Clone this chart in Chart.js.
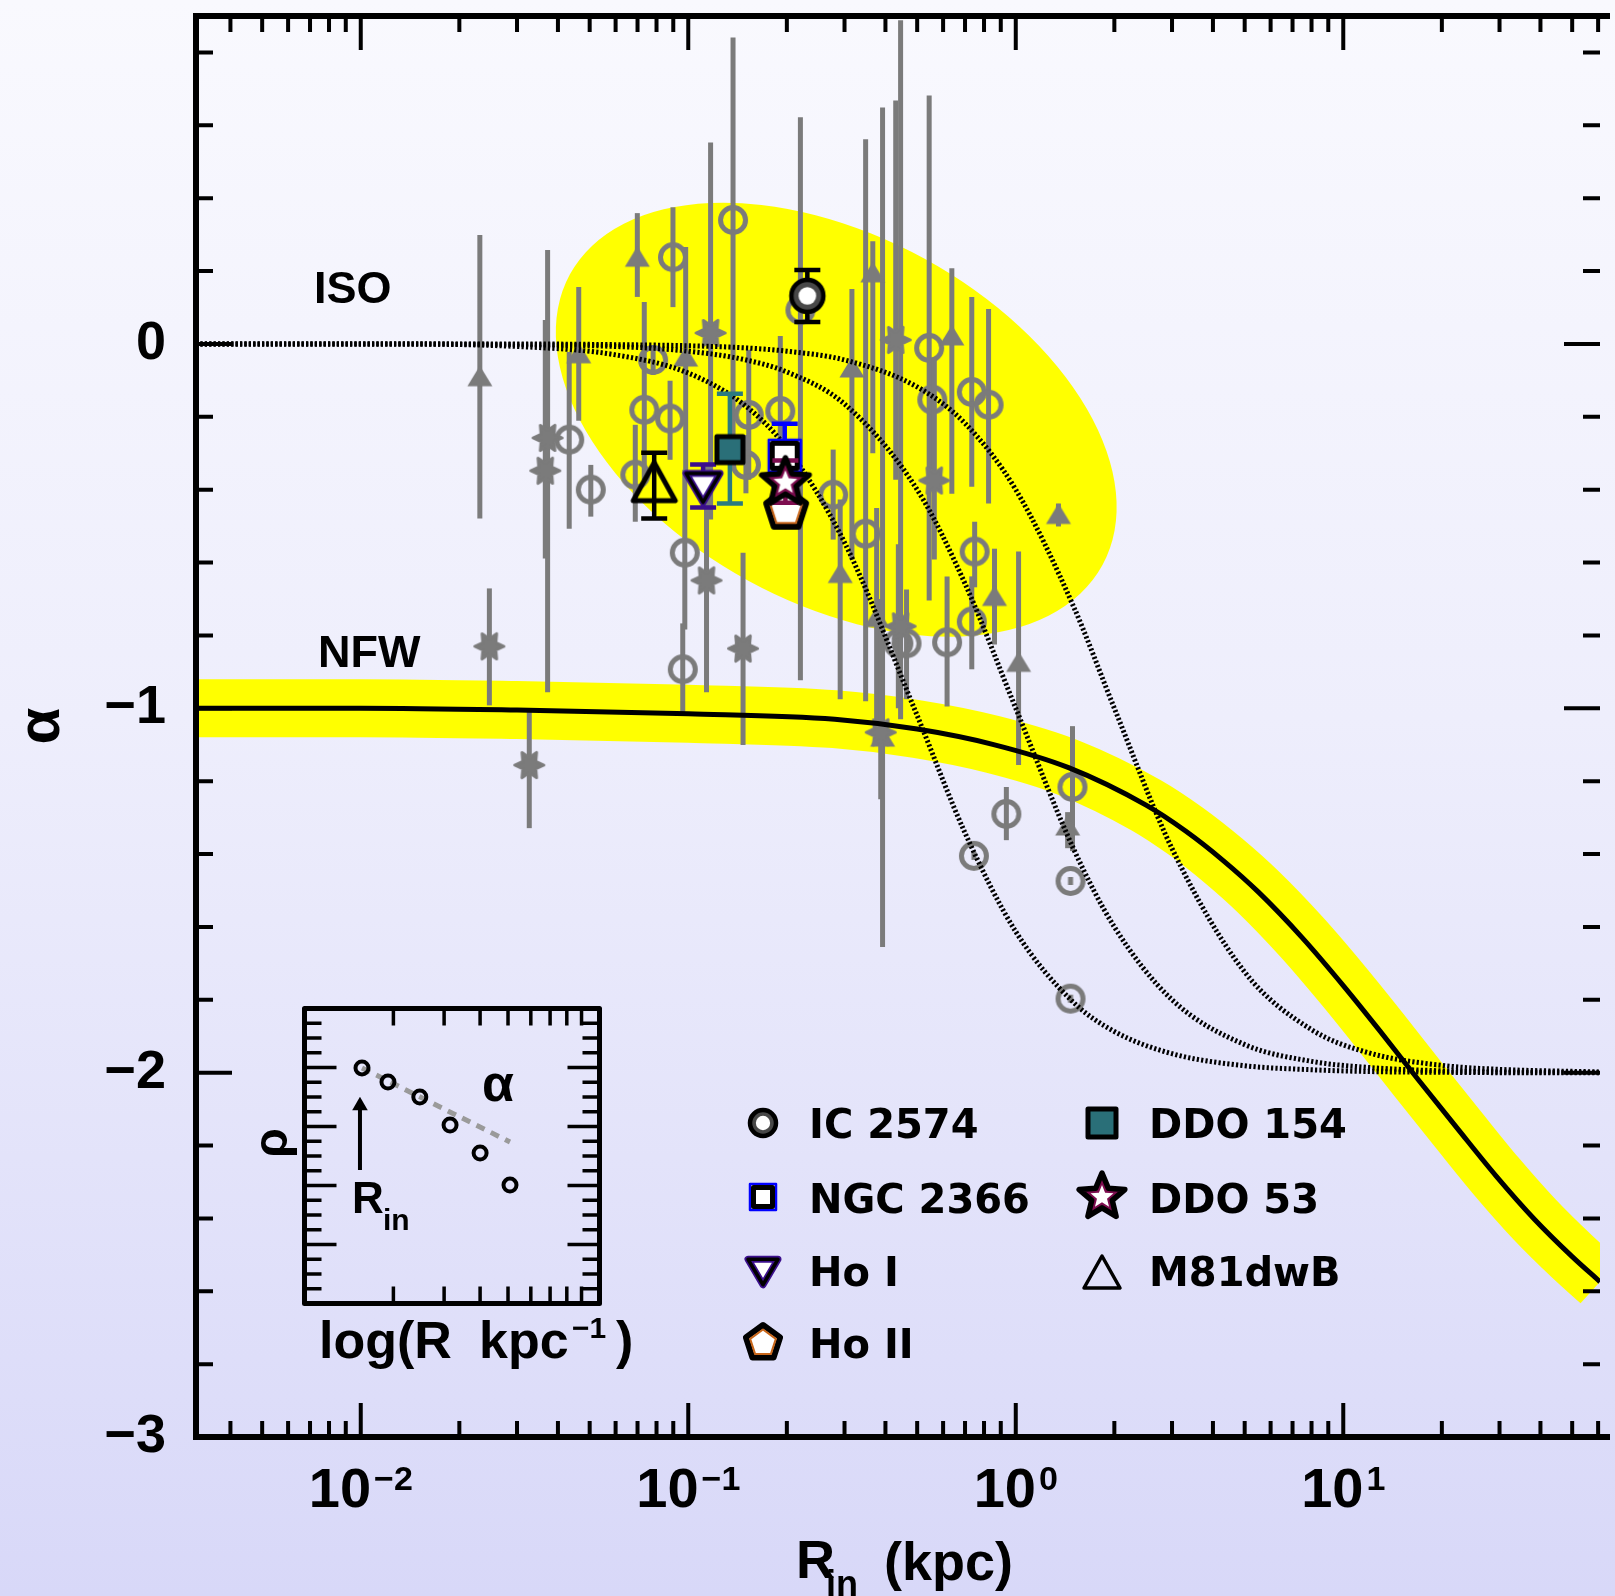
<!DOCTYPE html>
<html>
<head>
<meta charset="utf-8">
<title>Inner slope alpha vs R_in</title>
<script src="https://cdn.jsdelivr.net/npm/chart.js@4.4.1/dist/chart.umd.min.js"></script>
<style>
  html, body { margin: 0; padding: 0; }
  body {
    width: 1615px;
    height: 1596px;
    overflow: hidden;
    position: relative;
    background: linear-gradient(to bottom, #f9f9fe 0%, #eeeefc 45%, #d8d8f8 100%);
  }
  canvas { position: absolute; }
  #mainChart { left: 0; top: 0; }
  #insetChart { left: 250px; top: 998px; }
</style>
</head>
<body>
<canvas id="mainChart" width="1615" height="1596"></canvas>
<canvas id="insetChart" width="400" height="380"></canvas>
<script>
const TEXT_FONT = '"Liberation Sans", Arial, sans-serif';
const LEGEND_FONT = '"DejaVu Sans", sans-serif';
const GRAY = '#7b7b7b';
const YELLOW = '#ffff00';

// ---- axes ----
const xRange = [0.00314, 60.8];
const yRange = [-3, 0.9];
const xTickValues = [0.01, 0.1, 1, 10];
const xTickExponents = ['\u22122', '\u22121', '0', '1'];
const yTickValues = [0, -1, -2, -3];
const yTickLabels = ['0', '\u22121', '\u22122', '\u22123'];

// ---- model curves ----
const nfwR     = [0.00314, 0.01, 0.03, 0.1, 0.28, 0.5, 0.85, 1.45, 2.5, 3.3, 4.3, 5.5, 7.5, 10, 12.9, 16.9, 22.3, 29.3, 38.4, 50, 60.8];
const nfwAlpha = [-1.0, -1.0, -1.005, -1.015, -1.03, -1.057, -1.099, -1.163, -1.266, -1.337, -1.418, -1.504, -1.630, -1.761, -1.884, -2.018, -2.153, -2.284, -2.403, -2.505, -2.574];

const isoR      = [0.00314, 0.01, 0.03, 0.06, 0.1, 0.15, 0.2, 0.3, 0.5, 0.7, 1, 1.5, 2, 3, 5, 8, 12, 20, 30, 60.8];
const isoAlphaA = [0, 0, -0.007, -0.03, -0.08, -0.171, -0.286, -0.545, -1.02, -1.342, -1.613, -1.807, -1.887, -1.948, -1.981, -1.992, -1.997, -1.999, -2.0, -2.0];
const isoAlphaB = [0, 0, -0.002, -0.007, -0.02, -0.044, -0.077, -0.165, -0.40, -0.658, -1.0, -1.385, -1.6, -1.8, -1.923, -1.969, -1.986, -1.995, -1.998, -2.0];
const isoAlphaC = [0, 0, 0, -0.002, -0.005, -0.011, -0.02, -0.044, -0.118, -0.218, -0.40, -0.72, -1.0, -1.385, -1.724, -1.882, -1.946, -1.98, -1.991, -1.998];

// shaded region of the sample (ellipse): centre, end of major axis, minor/major ratio
const ellipseCenter = [0.283, -0.208];
const ellipseMajorEnd = [1.84, -0.607];
const ellipseAxisRatio = 0.605;

// ---- literature points (gray) ----
const circR     = [0.137, 0.0898, 0.0734, 0.0880, 0.0689, 0.0781, 0.0433, 0.0504, 0.0976, 0.0962, 0.544, 0.556, 0.734, 0.826, 0.191, 0.153, 0.348, 0.749, 0.734, 0.617, 0.464, 1.49, 0.936, 0.277, 0.150, 0.220, 0.438];
const circAlpha = [0.340, 0.238, -0.181, -0.205, -0.359, -0.044, -0.263, -0.400, -0.573, -0.893, -0.011, -0.153, -0.132, -0.167, -0.184, -0.195, -0.521, -0.570, -0.762, -0.819, -0.822, -1.216, -1.290, -0.414, -0.332, 0.093, -0.822];
const circLow   = [-0.345, 0.101, -0.373, -0.318, -0.488, -0.085, -0.507, -0.474, -0.784, -1.019, -0.704, -0.345, -0.392, -0.438, -0.411, -0.373, -0.981, -0.668, -0.893, -0.995, -0.975, -1.392, -1.362, -0.537, -0.410, -0.923, -1.000];
const circHigh  = [0.841, 0.375, 0.115, -0.101, -0.222, -0.003, -0.022, -0.332, -0.345, -0.767, 0.682, -0.038, 0.129, 0.096, 0.022, -0.016, 0.562, -0.488, -0.638, -0.638, -0.674, -1.049, -1.216, -0.290, -0.250, 0.622, -0.550];

const dotR     = [0.745, 1.47, 1.47];
const dotAlpha = [-1.405, -1.474, -1.797];

const triR     = [0.0231, 0.0463, 0.0699, 0.0982, 0.366, 0.638, 1.35, 1.02, 0.861, 1.44, 0.392, 0.291, 0.316, 0.376];
const triAlpha = [-0.090, -0.027, 0.238, -0.036, 0.195, 0.022, -0.468, -0.874, -0.693, -1.323, -1.079, -0.630, -0.066, -0.751];
const triLow   = [-0.479, -0.211, 0.129, -0.373, -0.300, -0.411, -0.501, -1.156, -0.825, -1.384, -1.655, -0.975, -0.592, -1.050];
const triHigh  = [0.299, 0.156, 0.359, 0.266, 0.282, 0.208, -0.438, -0.570, -0.562, -1.285, 0.649, -0.427, 0.151, -0.450];

const starR     = [0.0372, 0.0366, 0.117, 0.0247, 0.0327, 0.1137, 0.147, 0.564, 0.387, 0.445, 0.430];
const starAlpha = [-0.258, -0.348, 0.030, -0.830, -1.156, -0.649, -0.836, -0.375, -1.066, -0.775, 0.011];
const starLow   = [-0.956, -0.589, -0.482, -0.992, -1.329, -0.956, -1.101, -0.592, -1.250, -1.030, -0.373];
const starHigh  = [0.258, 0.066, 0.553, -0.671, -1.000, -0.326, -0.573, -0.038, -0.700, 0.888, 0.668];

// ---- THINGS galaxies ----
const galaxyNames = ['IC 2574', 'NGC 2366', 'Ho I', 'Ho II', 'DDO 154', 'DDO 53', 'M81dwB'];
const galaxyR     = [0.231, 0.197, 0.111, 0.199, 0.134, 0.198, 0.0787];
const galaxyAlpha = [0.132, -0.307, -0.395, -0.455, -0.290, -0.381, -0.378];
const galaxyLow   = [0.060, -0.390, -0.449, -0.490, -0.438, -0.436, -0.479];
const galaxyHigh  = [0.203, -0.219, -0.331, -0.420, -0.137, -0.320, -0.299];
const galaxyDrawOrder = [6, 2, 4, 0, 1, 3, 5];

// ---- inset sketch ----
const insetR      = [1.556, 1.915, 2.47, 3.146, 4.0, 5.08];
const insetRho    = [15.97, 15.02, 14.0, 12.10, 10.20, 8.03];
const insetFitR   = [1.556, 5.08];
const insetFitRho = [15.97, 10.95];
const insetArrowR   = [1.531, 1.531];
const insetArrowRho = [9.05, 13.4];

function pts(xs, ys) {
  return xs.map((v, i) => ({ x: v, y: ys[i] }));
}

// ---- marker images ----
function makeMarker(w, h, draw) {
  const c = document.createElement('canvas');
  c.width = w;
  c.height = h;
  const g = c.getContext('2d');
  g.translate(w / 2, h / 2);
  g.lineJoin = 'round';
  draw(g);
  return c;
}

function polygon(g, n, r, rot) {
  g.beginPath();
  for (let i = 0; i < n; i++) {
    const a = rot + i * 2 * Math.PI / n;
    if (i === 0) g.moveTo(r * Math.cos(a), r * Math.sin(a));
    else g.lineTo(r * Math.cos(a), r * Math.sin(a));
  }
  g.closePath();
}

function starPath(g, n, ro, ri, rot) {
  g.beginPath();
  for (let i = 0; i < 2 * n; i++) {
    const r = i % 2 ? ri : ro;
    const a = rot + i * Math.PI / n;
    if (i === 0) g.moveTo(r * Math.cos(a), r * Math.sin(a));
    else g.lineTo(r * Math.cos(a), r * Math.sin(a));
  }
  g.closePath();
}

const grayCircle = makeMarker(36, 36, g => {
  g.beginPath();
  g.arc(0, 0, 12.5, 0, 2 * Math.PI);
  g.lineWidth = 5;
  g.strokeStyle = GRAY;
  g.stroke();
});
const grayCircleDot = makeMarker(36, 36, g => {
  g.beginPath();
  g.arc(0, 0, 12.5, 0, 2 * Math.PI);
  g.lineWidth = 5;
  g.strokeStyle = GRAY;
  g.stroke();
  g.fillStyle = GRAY;
  g.fillRect(-2.5, -4, 5, 8);
});
const grayTriangle = makeMarker(30, 26, g => {
  g.beginPath();
  g.moveTo(0, -11);
  g.lineTo(12.5, 9.5);
  g.lineTo(-12.5, 9.5);
  g.closePath();
  g.fillStyle = GRAY;
  g.fill();
});
const grayStar = makeMarker(38, 34, g => {
  starPath(g, 6, 14.5, 7.5, 0);
  g.fillStyle = GRAY;
  g.fill();
  g.lineWidth = 3;
  g.strokeStyle = GRAY;
  g.stroke();
});

function icMarker(r) {
  const s = Math.ceil(2 * r + 8);
  return makeMarker(s, s, g => {
    g.beginPath();
    g.arc(0, 0, r, 0, 2 * Math.PI);
    g.fillStyle = '#484848';
    g.fill();
    g.lineWidth = 4.5;
    g.strokeStyle = '#000';
    g.stroke();
    g.beginPath();
    g.arc(0, 0, r * 0.55, 0, 2 * Math.PI);
    g.fillStyle = '#fff';
    g.fill();
  });
}
function ngcMarker(side) {
  const s = side + 10;
  return makeMarker(s, s, g => {
    const h = side / 2;
    g.fillStyle = '#fff';
    g.fillRect(-h, -h, side, side);
    g.lineWidth = 2.5;
    g.strokeStyle = '#0000ff';
    g.strokeRect(-h - 1, -h - 1, side + 2, side + 2);
    g.lineWidth = 5;
    g.strokeStyle = '#000';
    g.strokeRect(-h + 2.5, -h + 2.5, side - 5, side - 5);
  });
}
function hoIMarker(w) {
  const h = w * 0.85;
  return makeMarker(w + 12, Math.ceil(h + 12), g => {
    g.beginPath();
    g.moveTo(-w / 2, -h / 2);
    g.lineTo(w / 2, -h / 2);
    g.lineTo(0, h / 2);
    g.closePath();
    g.fillStyle = '#fff';
    g.fill();
    g.lineWidth = 7;
    g.strokeStyle = '#3b0f8c';
    g.stroke();
    g.lineWidth = 3.5;
    g.strokeStyle = '#000';
    g.stroke();
  });
}
function hoIIMarker(r) {
  const s = Math.ceil(2 * r + 10);
  return makeMarker(s, s, g => {
    polygon(g, 5, r, -Math.PI / 2);
    g.fillStyle = '#fff';
    g.fill();
    g.lineWidth = 6;
    g.strokeStyle = '#000';
    g.stroke();
    polygon(g, 5, r - 4.5, -Math.PI / 2);
    g.lineWidth = 2;
    g.strokeStyle = '#c8661a';
    g.stroke();
  });
}
function ddo154Marker(side) {
  const s = side + 10;
  return makeMarker(s, s, g => {
    const h = side / 2;
    g.fillStyle = '#2a6f78';
    g.fillRect(-h, -h, side, side);
    g.lineWidth = 5;
    g.strokeStyle = '#000';
    g.strokeRect(-h, -h, side, side);
  });
}
function ddo53Marker(r) {
  const s = Math.ceil(2 * r + 10);
  return makeMarker(s, s, g => {
    starPath(g, 5, r, r * 0.45, -Math.PI / 2);
    g.fillStyle = '#7d0d4f';
    g.fill();
    g.lineWidth = 5.5;
    g.strokeStyle = '#000';
    g.stroke();
    starPath(g, 5, r * 0.5, r * 0.22, -Math.PI / 2);
    g.fillStyle = '#fff';
    g.fill();
  });
}
function m81Marker(w, h, lw) {
  return makeMarker(w + 10, h + 10, g => {
    g.beginPath();
    g.moveTo(0, -h / 2);
    g.lineTo(w / 2, h / 2);
    g.lineTo(-w / 2, h / 2);
    g.closePath();
    g.lineWidth = lw;
    g.strokeStyle = '#000';
    g.stroke();
  });
}

const galaxyStyles = [
  { color: '#000000', marker: icMarker(16), legend: icMarker(13) },
  { color: '#0000ff', marker: ngcMarker(30), legend: ngcMarker(24) },
  { color: '#3b0f8c', marker: hoIMarker(34), legend: hoIMarker(30) },
  { color: '#c8661a', marker: hoIIMarker(21), legend: hoIIMarker(18) },
  { color: '#2b7a80', marker: ddo154Marker(26), legend: ddo154Marker(28) },
  { color: '#7d0d4f', marker: ddo53Marker(25), legend: ddo53Marker(24) },
  { color: '#000000', marker: m81Marker(42, 38, 5), legend: m81Marker(36, 32, 3.5) }
];

// ---- datasets ----
const datasets = [];
datasets.push({
  label: 'NFW band',
  data: pts(nfwR, nfwAlpha),
  showLine: true,
  borderColor: YELLOW,
  borderWidth: 58,
  borderCapStyle: 'butt',
  borderJoinStyle: 'round',
  pointRadius: 0,
  cubicInterpolationMode: 'monotone'
});
datasets.push({
  label: 'literature (circles)',
  data: pts(circR, circAlpha),
  pointStyle: grayCircle,
  pointRadius: 12,
  errLow: circLow, errHigh: circHigh, errColor: GRAY, errWidth: 5
});
datasets.push({
  label: 'literature (no error)',
  data: pts(dotR, dotAlpha),
  pointStyle: grayCircleDot,
  pointRadius: 12
});
datasets.push({
  label: 'literature (triangles)',
  data: pts(triR, triAlpha),
  pointStyle: grayTriangle,
  pointRadius: 12,
  errLow: triLow, errHigh: triHigh, errColor: GRAY, errWidth: 5
});
datasets.push({
  label: 'literature (stars)',
  data: pts(starR, starAlpha),
  pointStyle: grayStar,
  pointRadius: 12,
  errLow: starLow, errHigh: starHigh, errColor: GRAY, errWidth: 5
});
[isoAlphaA, isoAlphaB, isoAlphaC].forEach((alphas, k) => {
  datasets.push({
    label: 'ISO ' + k,
    data: pts(isoR, alphas),
    showLine: true,
    borderColor: '#000',
    borderWidth: 5,
    borderDash: [2.2, 2.2],
    pointRadius: 0,
    cubicInterpolationMode: 'monotone'
  });
});
datasets.push({
  label: 'NFW',
  data: pts(nfwR, nfwAlpha),
  showLine: true,
  borderColor: '#000',
  borderWidth: 5,
  borderJoinStyle: 'round',
  pointRadius: 0,
  cubicInterpolationMode: 'monotone'
});
galaxyDrawOrder.forEach(i => {
  datasets.push({
    label: galaxyNames[i],
    data: [{ x: galaxyR[i], y: galaxyAlpha[i] }],
    pointStyle: galaxyStyles[i].marker,
    pointRadius: 14,
    errLow: [galaxyLow[i]], errHigh: [galaxyHigh[i]],
    errColor: galaxyStyles[i].color, errWidth: 4.5, capWidth: 26
  });
});
datasets.forEach((d, i) => { d.order = datasets.length - i; });

function setFont(ctx, size, family, weight) {
  ctx.font = `${weight || 'bold'} ${size}px ${family || TEXT_FONT}`;
}

const mainDecor = {
  id: 'mainDecor',
  beforeDatasetsDraw(chart) {
    const { ctx, chartArea: a, scales: { x, y } } = chart;
    ctx.save();
    ctx.beginPath();
    ctx.rect(a.left, a.top, a.right - a.left, a.bottom - a.top);
    ctx.clip();
    const cx = x.getPixelForValue(ellipseCenter[0]);
    const cy = y.getPixelForValue(ellipseCenter[1]);
    const ex = x.getPixelForValue(ellipseMajorEnd[0]);
    const ey = y.getPixelForValue(ellipseMajorEnd[1]);
    const major = Math.hypot(ex - cx, ey - cy);
    ctx.beginPath();
    ctx.ellipse(cx, cy, major, major * ellipseAxisRatio, Math.atan2(ey - cy, ex - cx), 0, 2 * Math.PI);
    ctx.fillStyle = YELLOW;
    ctx.fill();
    ctx.restore();
  },
  beforeDatasetDraw(chart, args) {
    const ds = chart.data.datasets[args.index];
    if (!ds.errLow) return;
    const { ctx, chartArea: a, scales: { x, y } } = chart;
    ctx.save();
    ctx.beginPath();
    ctx.rect(a.left, a.top, a.right - a.left, a.bottom - a.top);
    ctx.clip();
    ctx.strokeStyle = ds.errColor;
    ctx.lineWidth = ds.errWidth;
    ds.data.forEach((p, i) => {
      const px = x.getPixelForValue(p.x);
      const lo = y.getPixelForValue(ds.errLow[i]);
      const hi = y.getPixelForValue(ds.errHigh[i]);
      ctx.beginPath();
      ctx.moveTo(px, lo);
      ctx.lineTo(px, hi);
      if (ds.capWidth) {
        const h = ds.capWidth / 2;
        ctx.moveTo(px - h, lo);
        ctx.lineTo(px + h, lo);
        ctx.moveTo(px - h, hi);
        ctx.lineTo(px + h, hi);
      }
      ctx.stroke();
    });
    ctx.restore();
  },
  afterDraw(chart) {
    const { ctx, chartArea: { left, right, top, bottom }, scales: { x, y } } = chart;
    ctx.save();

    // inward ticks on all four sides
    ctx.strokeStyle = '#000';
    ctx.lineWidth = 4;
    ctx.beginPath();
    for (let d = -3; d <= 1; d++) {
      for (let m = 1; m <= 9; m++) {
        const v = m * Math.pow(10, d);
        if (v < xRange[0] || v > xRange[1]) continue;
        const px = x.getPixelForValue(v);
        const len = m === 1 ? 34 : 16;
        ctx.moveTo(px, bottom);
        ctx.lineTo(px, bottom - len);
        ctx.moveTo(px, top);
        ctx.lineTo(px, top + len);
      }
    }
    for (let k = -15; k <= 4; k++) {
      const py = y.getPixelForValue(k * 0.2);
      const len = k % 5 === 0 ? 36 : 17;
      ctx.moveTo(left, py);
      ctx.lineTo(left + len, py);
      ctx.moveTo(right, py);
      ctx.lineTo(right - len, py);
    }
    ctx.stroke();

    // frame
    ctx.lineWidth = 6;
    ctx.beginPath();
    ctx.moveTo(right + 10, top);
    ctx.lineTo(left, top);
    ctx.lineTo(left, bottom);
    ctx.lineTo(right + 10, bottom);
    ctx.stroke();

    // tick labels
    ctx.fillStyle = '#000';
    ctx.textBaseline = 'alphabetic';
    xTickValues.forEach((v, i) => {
      const px = x.getPixelForValue(v);
      setFont(ctx, 56);
      const w1 = ctx.measureText('10').width;
      setFont(ctx, 34);
      const w2 = ctx.measureText(xTickExponents[i]).width;
      const start = px - (w1 + 3 + w2) / 2;
      ctx.textAlign = 'left';
      setFont(ctx, 56);
      ctx.fillText('10', start, 1507);
      setFont(ctx, 34);
      ctx.fillText(xTickExponents[i], start + w1 + 3, 1490);
    });
    setFont(ctx, 54);
    ctx.textAlign = 'right';
    ctx.textBaseline = 'middle';
    yTickValues.forEach((v, i) => {
      ctx.fillText(yTickLabels[i], 166, y.getPixelForValue(v));
    });

    // axis titles
    ctx.textBaseline = 'alphabetic';
    ctx.textAlign = 'left';
    setFont(ctx, 54);
    ctx.fillText('R', 796, 1578);
    ctx.fillText('(kpc)', 884, 1580);
    setFont(ctx, 36);
    ctx.fillText('in', 826, 1596);
    ctx.save();
    ctx.translate(42, 726);
    ctx.rotate(-Math.PI / 2);
    ctx.textAlign = 'center';
    ctx.textBaseline = 'middle';
    setFont(ctx, 60);
    ctx.fillText('\u03b1', 0, 0);
    ctx.restore();

    // curve labels
    setFont(ctx, 45);
    ctx.fillText('ISO', 314, 303);
    ctx.fillText('NFW', 318, 667);

    // legend
    const legendCols = [[0, 1, 2, 3], [4, 5, 6]];
    const colMarkerX = [763, 1102];
    const colTextX = [809, 1149];
    const rowMarkerY = [1123, 1197, 1272, 1343];
    const rowTextY = [1138, 1213, 1286, 1358];
    setFont(ctx, 40, LEGEND_FONT);
    legendCols.forEach((col, c) => {
      col.forEach((gi, r) => {
        const img = galaxyStyles[gi].legend;
        ctx.drawImage(img, colMarkerX[c] - img.width / 2, rowMarkerY[r] - img.height / 2);
        ctx.fillText(galaxyNames[gi], colTextX[c], rowTextY[r]);
      });
    });
    ctx.restore();
  }
};

new Chart(document.getElementById('mainChart'), {
  type: 'scatter',
  data: { datasets },
  options: {
    responsive: false,
    animation: false,
    devicePixelRatio: 1,
    layout: { padding: { top: 16, left: 0, right: 0, bottom: 0 } },
    plugins: { legend: { display: false }, tooltip: { enabled: false } },
    scales: {
      x: {
        type: 'logarithmic',
        min: xRange[0],
        max: xRange[1],
        grid: { display: false, drawTicks: false },
        border: { display: false },
        ticks: { display: false },
        afterFit: s => { s.height = 159; }
      },
      y: {
        min: yRange[0],
        max: yRange[1],
        grid: { display: false, drawTicks: false },
        border: { display: false },
        ticks: { display: false },
        afterFit: s => { s.width = 196; }
      }
    }
  },
  plugins: [mainDecor]
});

// ---- inset: density profile sketch ----
const insetDecor = {
  id: 'insetDecor',
  afterDraw(chart) {
    const { ctx, chartArea: { left, right, top, bottom }, scales: { x, y } } = chart;
    ctx.save();
    ctx.strokeStyle = '#000';
    ctx.lineWidth = 3.5;
    ctx.beginPath();
    for (let k = 1; k <= 19; k++) {
      const py = y.getPixelForValue(k);
      const len = k % 4 === 0 ? 32 : 17;
      ctx.moveTo(left, py);
      ctx.lineTo(left + len, py);
      ctx.moveTo(right, py);
      ctx.lineTo(right - len, py);
    }
    for (let m = 2; m <= 9; m++) {
      const px = x.getPixelForValue(m);
      ctx.moveTo(px, top);
      ctx.lineTo(px, top + 17);
      ctx.moveTo(px, bottom);
      ctx.lineTo(px, bottom - 17);
    }
    ctx.stroke();
    ctx.lineWidth = 5;
    ctx.lineJoin = 'round';
    ctx.strokeRect(left, top, right - left, bottom - top);

    ctx.fillStyle = '#000';
    ctx.textAlign = 'left';
    ctx.textBaseline = 'alphabetic';
    setFont(ctx, 52);
    ctx.fillText('\u03b1', 232, 103);
    setFont(ctx, 44);
    ctx.fillText('R', 102, 215);
    setFont(ctx, 30);
    ctx.fillText('in', 133, 232);
    setFont(ctx, 52);
    ctx.fillText('log(R', 69, 360);
    ctx.fillText('kpc', 229, 360);
    ctx.fillText(')', 366, 360);
    setFont(ctx, 30);
    ctx.fillText('\u22121', 322, 340);
    ctx.save();
    ctx.translate(24, 145);
    ctx.rotate(-Math.PI / 2);
    ctx.textAlign = 'center';
    ctx.textBaseline = 'middle';
    setFont(ctx, 48);
    ctx.fillText('\u03c1', 0, 0);
    ctx.restore();
    ctx.restore();
  }
};

new Chart(document.getElementById('insetChart'), {
  type: 'scatter',
  data: {
    datasets: [
      {
        data: pts(insetR, insetRho),
        pointStyle: 'circle',
        pointRadius: 6.5,
        pointBorderWidth: 4,
        pointBorderColor: '#000',
        pointBackgroundColor: 'rgba(0,0,0,0)',
        order: 1
      },
      {
        data: pts(insetFitR, insetFitRho),
        showLine: true,
        borderColor: '#9a9a9a',
        borderWidth: 5,
        borderDash: [9, 7],
        pointRadius: 0,
        order: 2
      },
      {
        data: pts(insetArrowR, insetArrowRho),
        showLine: true,
        borderColor: '#000',
        borderWidth: 4,
        pointStyle: 'triangle',
        pointRadius: [0, 9],
        pointBorderWidth: 0,
        pointBackgroundColor: '#000',
        order: 3
      }
    ]
  },
  options: {
    responsive: false,
    animation: false,
    devicePixelRatio: 1,
    layout: { padding: { left: 54.5, top: 10.5, right: 50.5, bottom: 74.5 } },
    plugins: { legend: { display: false }, tooltip: { enabled: false } },
    scales: {
      x: { type: 'logarithmic', min: 0.9826, max: 10.39, display: false },
      y: { min: 0, max: 20, display: false }
    }
  },
  plugins: [insetDecor]
});
</script>
</body>
</html>
